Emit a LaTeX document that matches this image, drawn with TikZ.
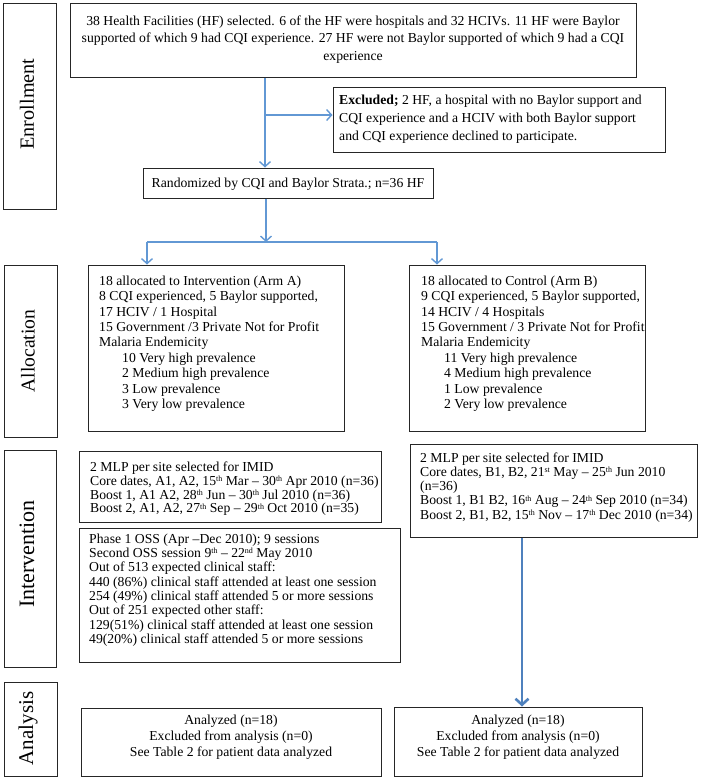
\documentclass[tikz,border=0pt]{standalone}
\usepackage{fontspec}
\setmainfont{Liberation Serif}
\usetikzlibrary{arrows.meta,fit}
\definecolor{arrblue}{RGB}{98,152,212}
\definecolor{arrdark}{RGB}{79,129,189}
\newcommand{\sps}[1]{\raisebox{3.7pt}{\fontsize{8}{8}\selectfont #1}}
\newcommand{\ind}{\hspace*{23pt}}
\begin{document}
\begin{tikzpicture}[x=1pt,y=-1pt,
  box/.style={draw=black!85, line width=1pt, fill=white, inner sep=0pt},
  lbl/.style={rotate=90, inner sep=0pt},
  txt/.style={inner sep=0pt, align=left, anchor=north west},
  ctxt/.style={inner sep=0pt, align=center, anchor=north},
  ln/.style={draw=arrblue, line width=1.4pt},
  arr/.style={ln, -{Straight Barb[length=5pt,width=11pt]}},
  arrthick/.style={draw=arrdark, line width=2.6pt, -{Straight Barb[length=6pt,width=13pt]}}]
\useasboundingbox[fill=white] (0,0) rectangle (704,780);

% side label boxes
\node[box, fit={(3,3)(56,209)}] (bEnr) {};
\node[box, fit={(4,265)(57,437)}] (bAll) {};
\node[box, fit={(4,450)(56,667)}] (bInt) {};
\node[box, fit={(4,682)(57,776)}] (bAna) {};
\node[lbl, font=\fontsize{20.2}{24}\selectfont] (tEnr) at (27,104) {Enrollment};
\node[lbl, font=\fontsize{19.6}{24}\selectfont] (tAll) at (28,351) {Allocation};
\node[lbl, font=\fontsize{22}{26}\selectfont] (tInt) at (27,554) {Intervention};
\node[lbl, font=\fontsize{21}{25}\selectfont] (tAna) at (28,728.5) {Analysis};

% content boxes
\node[box, fit={(70,3)(636,77)}] (top) {};
\node[box, fit={(333,87)(665,152)}] (excl) {};
\node[box, fit={(143,168)(433,198)}] (rand) {};
\node[box, fit={(88,265)(344,431)}] (allA) {};
\node[box, fit={(409,265)(645,431)}] (allB) {};
\node[box, fit={(79,451)(381,522)}] (intA1) {};
\node[box, fit={(79,528)(400,662)}] (intA2) {};
\node[box, fit={(410,444)(697,537)}] (intB) {};
\node[box, fit={(81,708)(381,776)}] (anA) {};
\node[box, fit={(394,707)(642,776)}] (anB) {};

% texts
\node[ctxt, font={\fontsize{13.7}{17.5}\selectfont}] (topT) at (353,15.5)
 {38 Health Facilities (HF) selected. 6 of the HF were hospitals and 32 HCIVs. 11 HF were Baylor\\
  supported of which 9 had CQI experience. 27 HF were not Baylor supported of which 9 had a CQI\\
  experience};
\node[txt, font={\fontsize{13.7}{18}\selectfont}] (exclT) at (339,95)
 {\textbf{Excluded;} 2 HF, a hospital with no Baylor support and\\
  CQI experience and a HCIV with both Baylor support\\
  and CQI experience declined to participate.};
\node[inner sep=0pt, anchor=base, font={\fontsize{13.7}{15}\selectfont}] (randT) at (288,187.5)
 {Randomized by CQI and Baylor Strata.; n=36 HF};
\node[txt, font={\fontsize{13.7}{15.4}\selectfont}] (allAT) at (99,275.5)
 {18 allocated to Intervention (Arm A)\\
  8 CQI experienced, 5 Baylor supported,\\
  17 HCIV / 1 Hospital\\
  15 Government /3 Private Not for Profit\\
  Malaria Endemicity\\
  \ind 10 Very high prevalence\\
  \ind 2 Medium high prevalence\\
  \ind 3 Low prevalence\\
  \ind 3 Very low prevalence};
\node[txt, font={\fontsize{13.7}{15.4}\selectfont}] (allBT) at (421,275.5)
 {18 allocated to Control (Arm B)\\
  9 CQI experienced, 5 Baylor supported,\\
  14 HCIV / 4 Hospitals\\
  15 Government / 3 Private Not for Profit\\
  Malaria Endemicity\\
  \ind 11 Very high prevalence\\
  \ind 4 Medium high prevalence\\
  \ind 1 Low prevalence\\
  \ind 2 Very low prevalence};
\node[txt, font={\fontsize{13.7}{13.7}\selectfont\lineskiplimit=-20pt}] (intA1T) at (90,462)
 {2 MLP per site selected for IMID\\
  Core dates, A1, A2, 15\sps{th} Mar -- 30\sps{th} Apr 2010 (n=36)\\
  Boost 1, A1 A2, 28\sps{th} Jun -- 30\sps{th} Jul 2010 (n=36)\\
  Boost 2, A1, A2, 27\sps{th} Sep -- 29\sps{th} Oct 2010 (n=35)};
\node[txt, font={\fontsize{13.7}{14.3}\selectfont\lineskiplimit=-20pt}] (intA2T) at (89,533.5)
 {Phase 1 OSS (Apr --Dec 2010); 9 sessions\\
  Second OSS session 9\sps{th} -- 22\sps{nd} May 2010\\
  Out of 513 expected clinical staff:\\
  440 (86\%) clinical staff attended at least one session\\
  254 (49\%) clinical staff attended 5 or more sessions\\
  Out of 251 expected other staff:\\
  129(51\%) clinical staff attended at least one session\\
  49(20\%) clinical staff attended 5 or more sessions};
\node[txt, font={\fontsize{13.7}{14.2}\selectfont\lineskiplimit=-20pt}] (intBT) at (420,452.5)
 {2 MLP per site selected for IMID\\
  Core dates, B1, B2, 21\sps{st} May -- 25\sps{th} Jun 2010\\
  (n=36)\\
  Boost 1, B1 B2, 16\sps{th} Aug -- 24\sps{th} Sep 2010 (n=34)\\
  Boost 2, B1, B2, 15\sps{th} Nov -- 17\sps{th} Dec 2010 (n=34)};
\node[ctxt, font={\fontsize{13.7}{16}\selectfont}] (anAT) at (231,714.5)
 {Analyzed (n=18)\\ Excluded from analysis (n=0)\\ See Table 2 for patient data analyzed};
\node[ctxt, font={\fontsize{13.7}{16}\selectfont}] (anBT) at (518,714.5)
 {Analyzed (n=18)\\ Excluded from analysis (n=0)\\ See Table 2 for patient data analyzed};

% connectors
\coordinate (vA) at (265,115);
\draw[ln] (top.south -| vA) -- (vA);
\draw[arr] (vA) -- (rand.north -| vA);
\draw[arr] (vA) -- (excl.west |- vA);
\coordinate (jn) at (266,242);
\draw[arr] (rand.south -| jn) -- (jn);
\coordinate (bl) at (147,242);
\coordinate (br) at (437,242);
\draw[ln] (bl) -- (br);
\draw[arr] (bl) -- (allA.north -| bl);
\draw[arr] (br) -- (allB.north -| br);
\coordinate (lx) at (522,600);
\draw[arrthick] (intB.south -| lx) -- (anB.north -| lx);
\end{tikzpicture}
\end{document}
